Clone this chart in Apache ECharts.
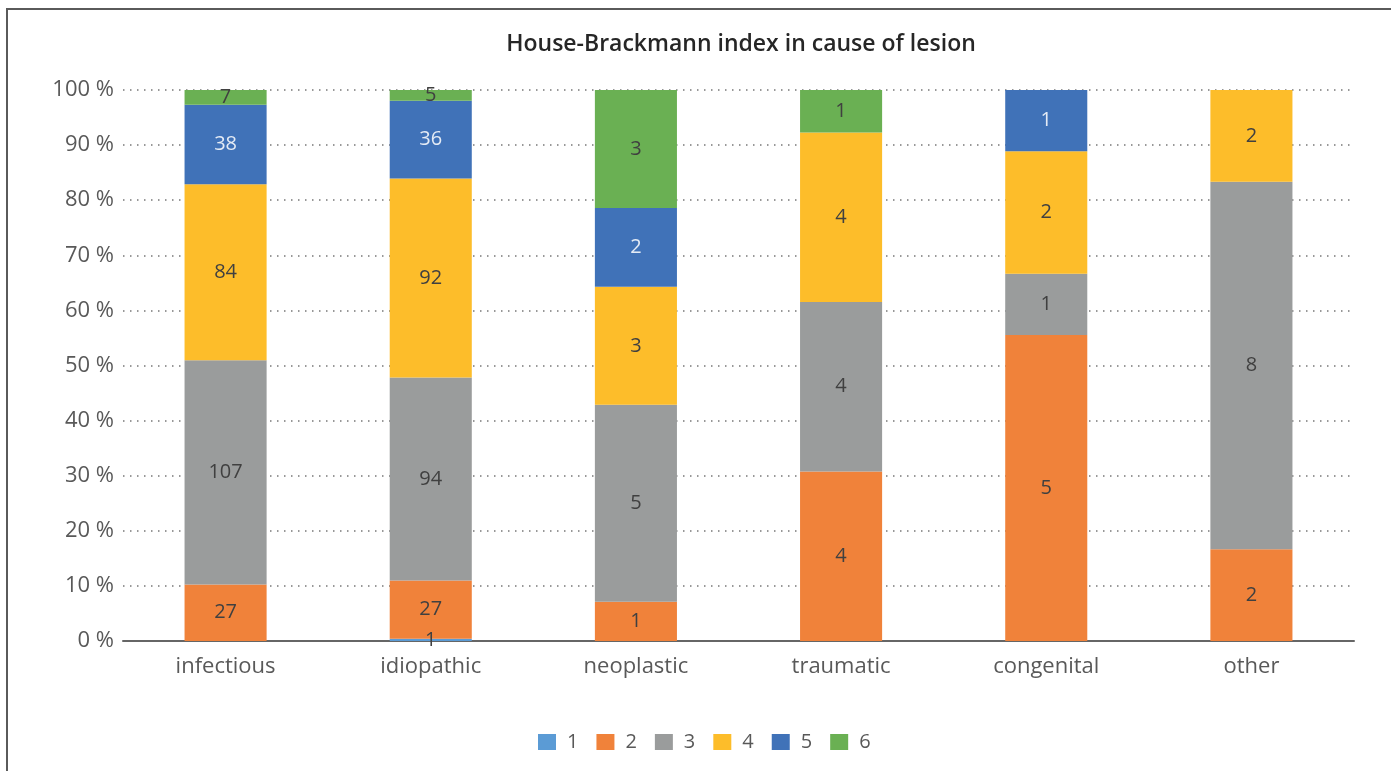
<!DOCTYPE html>
<html>
<head>
<meta charset="utf-8">
<script src="https://cdn.jsdelivr.net/npm/echarts@6/dist/echarts.min.js"></script>
<style>
	html, body { margin: 0; padding: 0; background: #fff; overflow: hidden; }
	#chart-area { width: 1391px; height: 771px; }
	#frame { position: absolute; left: 6px; top: 8px; width: 1420px; height: 820px; border: 2px solid #5a5a5a; box-sizing: border-box; pointer-events: none; }
</style>
</head>
<body>
<div id="chart-area"></div>
<div id="frame"></div>
<script>
	const categories = ['infectious', 'idiopathic', 'neoplastic', 'traumatic', 'congenital', 'other'];
	const seriesNames = ['1', '2', '3', '4', '5', '6'];
	// counts per House-Brackmann grade, one array per grade
	const grade1 = [0, 1, 0, 0, 0, 0];
	const grade2 = [27, 27, 1, 4, 5, 2];
	const grade3 = [107, 94, 5, 4, 1, 8];
	const grade4 = [84, 92, 3, 4, 2, 2];
	const grade5 = [38, 36, 2, 0, 1, 0];
	const grade6 = [7, 5, 3, 1, 0, 0];
	const yTicks = [0, 10, 20, 30, 40, 50, 60, 70, 80, 90, 100];
	const colors = ['#5b9bd5', '#f0823a', '#9a9c9c', '#fdbd2a', '#4072b8', '#6ab053'];

	const counts = [grade1, grade2, grade3, grade4, grade5, grade6];
	const totals = categories.map((c, i) => counts.reduce((s, g) => s + g[i], 0));

	let chartDom = document.getElementById('chart-area');
	let myChart = echarts.init(chartDom);
	let option;
	const font = "'Open Sans', 'Noto Sans', sans-serif";
	option = {
		animation: false,
		textStyle: { fontFamily: font },
		title: {
			text: 'House-Brackmann index in cause of lesion',
			left: 736,
			top: 28,
			textAlign: 'center',
			textStyle: { fontSize: 23, fontWeight: 600, color: '#262626', fontFamily: font }
		},
		legend: {
			data: seriesNames,
			left: 533,
			top: 727,
			itemWidth: 18,
			itemHeight: 16,
			itemGap: 18,
			icon: 'rect',
			textStyle: { fontSize: 20, color: '#595959', padding: [0, 0, 0, 6], fontFamily: font }
		},
		grid: { left: 123, right: 37, top: 90, bottom: 130, containLabel: false },
		xAxis: {
			type: 'category',
			data: categories,
			axisLine: { lineStyle: { color: '#666', width: 2 } },
			axisTick: { show: false },
			axisLabel: { fontSize: 22, color: '#595959', margin: 15, fontFamily: font }
		},
		yAxis: {
			type: 'value',
			min: 0,
			max: 100,
			interval: 10,
			axisLine: { show: false },
			axisTick: { show: false },
			axisLabel: {
				fontSize: 22, color: '#595959', margin: 9, fontFamily: font,
				formatter: v => yTicks.includes(v) ? v + ' %' : ''
			},
			splitLine: { lineStyle: { color: '#777', type: [1.5, 5.5], width: 1.5 } }
		},
		series: counts.map((g, s) => ({
			name: seriesNames[s],
			type: 'bar',
			stack: 'total',
			barWidth: '40%',
			itemStyle: { color: colors[s] },
			label: {
				show: true,
				position: 'inside',
				fontSize: 20,
				fontFamily: font,
				color: s === 4 ? '#e4ebf5' : '#404040',
				formatter: p => g[p.dataIndex] > 0 ? String(g[p.dataIndex]) : ''
			},
			data: g.map((v, i) => v / totals[i] * 100)
		}))
	};

	option && myChart.setOption(option);
</script>
</body>
</html>
